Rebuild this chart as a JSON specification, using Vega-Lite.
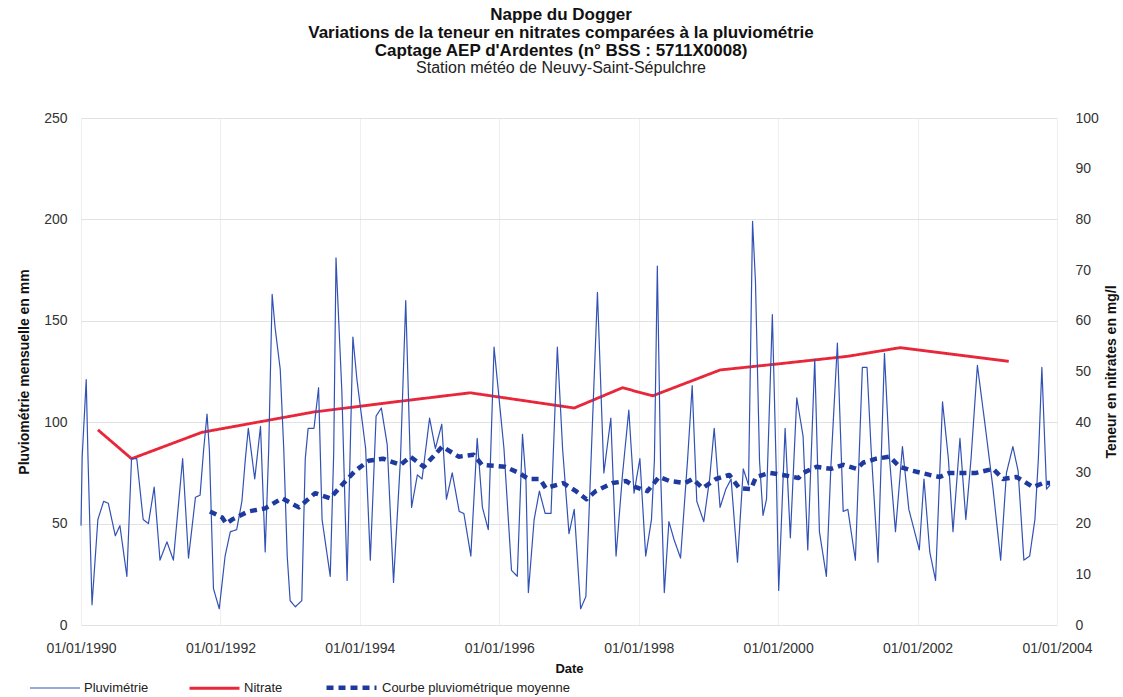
{
  "$schema": "https://vega.github.io/schema/vega-lite/v6.json",
  "width": 976,
  "height": 507,
  "autosize": {"type": "none"},
  "padding": {"left": 81, "top": 118, "right": 66, "bottom": 72},
  "background": "white",
  "config": {
    "view": {"stroke": null},
    "font": "Liberation Sans",
    "axis": {"labelFont": "Liberation Sans", "titleFont": "Liberation Sans", "labelColor": "#333333", "titleColor": "#111111"}
  },
  "title": {
    "text": ["Nappe du Dogger", "Variations de la teneur en nitrates comparées à la pluviométrie", "Captage AEP  d'Ardentes (n° BSS : 5711X0008)"],
    "subtitle": "Station météo de Neuvy-Saint-Sépulchre",
    "font": "Liberation Sans",
    "fontSize": 17,
    "fontWeight": "bold",
    "lineHeight": 18,
    "color": "#111111",
    "subtitleFont": "Liberation Sans",
    "subtitleFontSize": 16,
    "subtitleColor": "#222222",
    "subtitlePadding": 0,
    "subtitleLineHeight": 17,
    "anchor": "middle",
    "offset": 34,
    "dx": -8
  },
  "datasets": {
    "nitrate": [
      {"serie": "Nitrate", "annee": 1990.242, "valeur": 38.5},
      {"serie": "Nitrate", "annee": 1990.725, "valeur": 32.8},
      {"serie": "Nitrate", "annee": 1991.733, "valeur": 38},
      {"serie": "Nitrate", "annee": 1993.333, "valeur": 42},
      {"serie": "Nitrate", "annee": 1994.5, "valeur": 44},
      {"serie": "Nitrate", "annee": 1995.583, "valeur": 45.8},
      {"serie": "Nitrate", "annee": 1997.075, "valeur": 42.8},
      {"serie": "Nitrate", "annee": 1997.767, "valeur": 46.8},
      {"serie": "Nitrate", "annee": 1998.2, "valeur": 45.2},
      {"serie": "Nitrate", "annee": 1999.167, "valeur": 50.3},
      {"serie": "Nitrate", "annee": 2000.0, "valeur": 51.5},
      {"serie": "Nitrate", "annee": 2001.0, "valeur": 53},
      {"serie": "Nitrate", "annee": 2001.75, "valeur": 54.7},
      {"serie": "Nitrate", "annee": 2003.308, "valeur": 52}
    ],
    "pluie": [
      {"serie": "Pluvimétrie", "annee": 1990.000, "valeur": 49},
      {"serie": "Pluvimétrie", "annee": 1990.017, "valeur": 83},
      {"serie": "Pluvimétrie", "annee": 1990.075, "valeur": 121},
      {"serie": "Pluvimétrie", "annee": 1990.100, "valeur": 83},
      {"serie": "Pluvimétrie", "annee": 1990.158, "valeur": 10},
      {"serie": "Pluvimétrie", "annee": 1990.242, "valeur": 52},
      {"serie": "Pluvimétrie", "annee": 1990.325, "valeur": 61},
      {"serie": "Pluvimétrie", "annee": 1990.392, "valeur": 60},
      {"serie": "Pluvimétrie", "annee": 1990.492, "valeur": 44},
      {"serie": "Pluvimétrie", "annee": 1990.558, "valeur": 49},
      {"serie": "Pluvimétrie", "annee": 1990.658, "valeur": 24},
      {"serie": "Pluvimétrie", "annee": 1990.725, "valeur": 82},
      {"serie": "Pluvimétrie", "annee": 1990.800, "valeur": 82},
      {"serie": "Pluvimétrie", "annee": 1990.892, "valeur": 52},
      {"serie": "Pluvimétrie", "annee": 1990.967, "valeur": 50},
      {"serie": "Pluvimétrie", "annee": 1991.050, "valeur": 68},
      {"serie": "Pluvimétrie", "annee": 1991.133, "valeur": 32},
      {"serie": "Pluvimétrie", "annee": 1991.233, "valeur": 41},
      {"serie": "Pluvimétrie", "annee": 1991.325, "valeur": 32},
      {"serie": "Pluvimétrie", "annee": 1991.458, "valeur": 82},
      {"serie": "Pluvimétrie", "annee": 1991.542, "valeur": 33},
      {"serie": "Pluvimétrie", "annee": 1991.642, "valeur": 63},
      {"serie": "Pluvimétrie", "annee": 1991.708, "valeur": 64},
      {"serie": "Pluvimétrie", "annee": 1991.758, "valeur": 86},
      {"serie": "Pluvimétrie", "annee": 1991.808, "valeur": 104},
      {"serie": "Pluvimétrie", "annee": 1991.842, "valeur": 86},
      {"serie": "Pluvimétrie", "annee": 1991.900, "valeur": 18},
      {"serie": "Pluvimétrie", "annee": 1991.983, "valeur": 8},
      {"serie": "Pluvimétrie", "annee": 1992.067, "valeur": 34},
      {"serie": "Pluvimétrie", "annee": 1992.142, "valeur": 46},
      {"serie": "Pluvimétrie", "annee": 1992.233, "valeur": 47},
      {"serie": "Pluvimétrie", "annee": 1992.308, "valeur": 61},
      {"serie": "Pluvimétrie", "annee": 1992.358, "valeur": 82},
      {"serie": "Pluvimétrie", "annee": 1992.400, "valeur": 97},
      {"serie": "Pluvimétrie", "annee": 1992.492, "valeur": 72},
      {"serie": "Pluvimétrie", "annee": 1992.575, "valeur": 98},
      {"serie": "Pluvimétrie", "annee": 1992.642, "valeur": 36},
      {"serie": "Pluvimétrie", "annee": 1992.692, "valeur": 86},
      {"serie": "Pluvimétrie", "annee": 1992.742, "valeur": 163},
      {"serie": "Pluvimétrie", "annee": 1992.783, "valeur": 147},
      {"serie": "Pluvimétrie", "annee": 1992.858, "valeur": 126},
      {"serie": "Pluvimétrie", "annee": 1992.908, "valeur": 87},
      {"serie": "Pluvimétrie", "annee": 1992.958, "valeur": 34},
      {"serie": "Pluvimétrie", "annee": 1993.000, "valeur": 12},
      {"serie": "Pluvimétrie", "annee": 1993.075, "valeur": 9},
      {"serie": "Pluvimétrie", "annee": 1993.167, "valeur": 12},
      {"serie": "Pluvimétrie", "annee": 1993.217, "valeur": 82},
      {"serie": "Pluvimétrie", "annee": 1993.258, "valeur": 97},
      {"serie": "Pluvimétrie", "annee": 1993.342, "valeur": 97},
      {"serie": "Pluvimétrie", "annee": 1993.408, "valeur": 117},
      {"serie": "Pluvimétrie", "annee": 1993.458, "valeur": 52},
      {"serie": "Pluvimétrie", "annee": 1993.575, "valeur": 24},
      {"serie": "Pluvimétrie", "annee": 1993.625, "valeur": 85},
      {"serie": "Pluvimétrie", "annee": 1993.658, "valeur": 181},
      {"serie": "Pluvimétrie", "annee": 1993.675, "valeur": 167},
      {"serie": "Pluvimétrie", "annee": 1993.742, "valeur": 115},
      {"serie": "Pluvimétrie", "annee": 1993.817, "valeur": 22},
      {"serie": "Pluvimétrie", "annee": 1993.858, "valeur": 81},
      {"serie": "Pluvimétrie", "annee": 1993.900, "valeur": 142},
      {"serie": "Pluvimétrie", "annee": 1993.958, "valeur": 121},
      {"serie": "Pluvimétrie", "annee": 1994.083, "valeur": 87},
      {"serie": "Pluvimétrie", "annee": 1994.150, "valeur": 32},
      {"serie": "Pluvimétrie", "annee": 1994.233, "valeur": 103},
      {"serie": "Pluvimétrie", "annee": 1994.308, "valeur": 107},
      {"serie": "Pluvimétrie", "annee": 1994.392, "valeur": 89},
      {"serie": "Pluvimétrie", "annee": 1994.483, "valeur": 21},
      {"serie": "Pluvimétrie", "annee": 1994.583, "valeur": 82},
      {"serie": "Pluvimétrie", "annee": 1994.658, "valeur": 160},
      {"serie": "Pluvimétrie", "annee": 1994.742, "valeur": 58},
      {"serie": "Pluvimétrie", "annee": 1994.825, "valeur": 74},
      {"serie": "Pluvimétrie", "annee": 1994.892, "valeur": 72},
      {"serie": "Pluvimétrie", "annee": 1995.000, "valeur": 102},
      {"serie": "Pluvimétrie", "annee": 1995.083, "valeur": 87},
      {"serie": "Pluvimétrie", "annee": 1995.175, "valeur": 99},
      {"serie": "Pluvimétrie", "annee": 1995.242, "valeur": 62},
      {"serie": "Pluvimétrie", "annee": 1995.325, "valeur": 75},
      {"serie": "Pluvimétrie", "annee": 1995.425, "valeur": 56},
      {"serie": "Pluvimétrie", "annee": 1995.492, "valeur": 55},
      {"serie": "Pluvimétrie", "annee": 1995.592, "valeur": 34},
      {"serie": "Pluvimétrie", "annee": 1995.683, "valeur": 92},
      {"serie": "Pluvimétrie", "annee": 1995.758, "valeur": 58},
      {"serie": "Pluvimétrie", "annee": 1995.842, "valeur": 47},
      {"serie": "Pluvimétrie", "annee": 1995.925, "valeur": 137},
      {"serie": "Pluvimétrie", "annee": 1996.067, "valeur": 87},
      {"serie": "Pluvimétrie", "annee": 1996.175, "valeur": 27},
      {"serie": "Pluvimétrie", "annee": 1996.258, "valeur": 24},
      {"serie": "Pluvimétrie", "annee": 1996.333, "valeur": 94},
      {"serie": "Pluvimétrie", "annee": 1996.383, "valeur": 71},
      {"serie": "Pluvimétrie", "annee": 1996.417, "valeur": 16},
      {"serie": "Pluvimétrie", "annee": 1996.500, "valeur": 52},
      {"serie": "Pluvimétrie", "annee": 1996.575, "valeur": 66},
      {"serie": "Pluvimétrie", "annee": 1996.658, "valeur": 55},
      {"serie": "Pluvimétrie", "annee": 1996.742, "valeur": 55},
      {"serie": "Pluvimétrie", "annee": 1996.833, "valeur": 137},
      {"serie": "Pluvimétrie", "annee": 1996.908, "valeur": 87},
      {"serie": "Pluvimétrie", "annee": 1997.000, "valeur": 45},
      {"serie": "Pluvimétrie", "annee": 1997.075, "valeur": 57},
      {"serie": "Pluvimétrie", "annee": 1997.167, "valeur": 8},
      {"serie": "Pluvimétrie", "annee": 1997.242, "valeur": 14},
      {"serie": "Pluvimétrie", "annee": 1997.317, "valeur": 82},
      {"serie": "Pluvimétrie", "annee": 1997.408, "valeur": 164},
      {"serie": "Pluvimétrie", "annee": 1997.500, "valeur": 75},
      {"serie": "Pluvimétrie", "annee": 1997.600, "valeur": 102},
      {"serie": "Pluvimétrie", "annee": 1997.675, "valeur": 34},
      {"serie": "Pluvimétrie", "annee": 1997.767, "valeur": 74},
      {"serie": "Pluvimétrie", "annee": 1997.858, "valeur": 106},
      {"serie": "Pluvimétrie", "annee": 1997.933, "valeur": 65},
      {"serie": "Pluvimétrie", "annee": 1998.017, "valeur": 82},
      {"serie": "Pluvimétrie", "annee": 1998.100, "valeur": 34},
      {"serie": "Pluvimétrie", "annee": 1998.183, "valeur": 52},
      {"serie": "Pluvimétrie", "annee": 1998.225, "valeur": 81},
      {"serie": "Pluvimétrie", "annee": 1998.267, "valeur": 177},
      {"serie": "Pluvimétrie", "annee": 1998.317, "valeur": 72},
      {"serie": "Pluvimétrie", "annee": 1998.367, "valeur": 16},
      {"serie": "Pluvimétrie", "annee": 1998.433, "valeur": 51},
      {"serie": "Pluvimétrie", "annee": 1998.508, "valeur": 42},
      {"serie": "Pluvimétrie", "annee": 1998.600, "valeur": 33},
      {"serie": "Pluvimétrie", "annee": 1998.700, "valeur": 81},
      {"serie": "Pluvimétrie", "annee": 1998.767, "valeur": 118},
      {"serie": "Pluvimétrie", "annee": 1998.833, "valeur": 61},
      {"serie": "Pluvimétrie", "annee": 1998.933, "valeur": 51},
      {"serie": "Pluvimétrie", "annee": 1999.017, "valeur": 72},
      {"serie": "Pluvimétrie", "annee": 1999.083, "valeur": 97},
      {"serie": "Pluvimétrie", "annee": 1999.167, "valeur": 58},
      {"serie": "Pluvimétrie", "annee": 1999.250, "valeur": 67},
      {"serie": "Pluvimétrie", "annee": 1999.325, "valeur": 72},
      {"serie": "Pluvimétrie", "annee": 1999.417, "valeur": 31},
      {"serie": "Pluvimétrie", "annee": 1999.500, "valeur": 77},
      {"serie": "Pluvimétrie", "annee": 1999.575, "valeur": 69},
      {"serie": "Pluvimétrie", "annee": 1999.633, "valeur": 199},
      {"serie": "Pluvimétrie", "annee": 1999.675, "valeur": 169},
      {"serie": "Pluvimétrie", "annee": 1999.733, "valeur": 81},
      {"serie": "Pluvimétrie", "annee": 1999.783, "valeur": 54},
      {"serie": "Pluvimétrie", "annee": 1999.833, "valeur": 62},
      {"serie": "Pluvimétrie", "annee": 1999.917, "valeur": 153},
      {"serie": "Pluvimétrie", "annee": 1999.975, "valeur": 73},
      {"serie": "Pluvimétrie", "annee": 2000.008, "valeur": 17},
      {"serie": "Pluvimétrie", "annee": 2000.100, "valeur": 97},
      {"serie": "Pluvimétrie", "annee": 2000.175, "valeur": 43},
      {"serie": "Pluvimétrie", "annee": 2000.267, "valeur": 112},
      {"serie": "Pluvimétrie", "annee": 2000.358, "valeur": 93},
      {"serie": "Pluvimétrie", "annee": 2000.425, "valeur": 37},
      {"serie": "Pluvimétrie", "annee": 2000.525, "valeur": 131},
      {"serie": "Pluvimétrie", "annee": 2000.592, "valeur": 46},
      {"serie": "Pluvimétrie", "annee": 2000.692, "valeur": 24},
      {"serie": "Pluvimétrie", "annee": 2000.758, "valeur": 79},
      {"serie": "Pluvimétrie", "annee": 2000.850, "valeur": 139},
      {"serie": "Pluvimétrie", "annee": 2000.933, "valeur": 56},
      {"serie": "Pluvimétrie", "annee": 2001.000, "valeur": 57},
      {"serie": "Pluvimétrie", "annee": 2001.108, "valeur": 32},
      {"serie": "Pluvimétrie", "annee": 2001.208, "valeur": 127},
      {"serie": "Pluvimétrie", "annee": 2001.275, "valeur": 127},
      {"serie": "Pluvimétrie", "annee": 2001.333, "valeur": 87},
      {"serie": "Pluvimétrie", "annee": 2001.433, "valeur": 31},
      {"serie": "Pluvimétrie", "annee": 2001.525, "valeur": 134},
      {"serie": "Pluvimétrie", "annee": 2001.600, "valeur": 81},
      {"serie": "Pluvimétrie", "annee": 2001.683, "valeur": 46},
      {"serie": "Pluvimétrie", "annee": 2001.783, "valeur": 88},
      {"serie": "Pluvimétrie", "annee": 2001.875, "valeur": 57},
      {"serie": "Pluvimétrie", "annee": 2002.025, "valeur": 37},
      {"serie": "Pluvimétrie", "annee": 2002.092, "valeur": 72},
      {"serie": "Pluvimétrie", "annee": 2002.175, "valeur": 36},
      {"serie": "Pluvimétrie", "annee": 2002.258, "valeur": 22},
      {"serie": "Pluvimétrie", "annee": 2002.358, "valeur": 110},
      {"serie": "Pluvimétrie", "annee": 2002.442, "valeur": 82},
      {"serie": "Pluvimétrie", "annee": 2002.508, "valeur": 46},
      {"serie": "Pluvimétrie", "annee": 2002.608, "valeur": 92},
      {"serie": "Pluvimétrie", "annee": 2002.692, "valeur": 52},
      {"serie": "Pluvimétrie", "annee": 2002.767, "valeur": 82},
      {"serie": "Pluvimétrie", "annee": 2002.858, "valeur": 128},
      {"serie": "Pluvimétrie", "annee": 2002.967, "valeur": 99},
      {"serie": "Pluvimétrie", "annee": 2003.083, "valeur": 67},
      {"serie": "Pluvimétrie", "annee": 2003.192, "valeur": 32},
      {"serie": "Pluvimétrie", "annee": 2003.275, "valeur": 75},
      {"serie": "Pluvimétrie", "annee": 2003.367, "valeur": 88},
      {"serie": "Pluvimétrie", "annee": 2003.442, "valeur": 76},
      {"serie": "Pluvimétrie", "annee": 2003.525, "valeur": 32},
      {"serie": "Pluvimétrie", "annee": 2003.608, "valeur": 34},
      {"serie": "Pluvimétrie", "annee": 2003.683, "valeur": 52},
      {"serie": "Pluvimétrie", "annee": 2003.733, "valeur": 82},
      {"serie": "Pluvimétrie", "annee": 2003.783, "valeur": 127},
      {"serie": "Pluvimétrie", "annee": 2003.850, "valeur": 67},
      {"serie": "Pluvimétrie", "annee": 2003.900, "valeur": 69},
      {"serie": "Courbe pluviométrique moyenne", "annee": 1991.850, "valeur": 56},
      {"serie": "Courbe pluviométrique moyenne", "annee": 1992.025, "valeur": 53},
      {"serie": "Courbe pluviométrique moyenne", "annee": 1992.083, "valeur": 50},
      {"serie": "Courbe pluviométrique moyenne", "annee": 1992.167, "valeur": 52},
      {"serie": "Courbe pluviométrique moyenne", "annee": 1992.400, "valeur": 56},
      {"serie": "Courbe pluviométrique moyenne", "annee": 1992.642, "valeur": 57.5},
      {"serie": "Courbe pluviométrique moyenne", "annee": 1992.883, "valeur": 62.5},
      {"serie": "Courbe pluviométrique moyenne", "annee": 1993.125, "valeur": 58},
      {"serie": "Courbe pluviométrique moyenne", "annee": 1993.358, "valeur": 65},
      {"serie": "Courbe pluviométrique moyenne", "annee": 1993.575, "valeur": 62.5},
      {"serie": "Courbe pluviométrique moyenne", "annee": 1993.742, "valeur": 69},
      {"serie": "Courbe pluviométrique moyenne", "annee": 1993.933, "valeur": 76},
      {"serie": "Courbe pluviométrique moyenne", "annee": 1994.125, "valeur": 81},
      {"serie": "Courbe pluviométrique moyenne", "annee": 1994.333, "valeur": 82},
      {"serie": "Courbe pluviométrique moyenne", "annee": 1994.583, "valeur": 79},
      {"serie": "Courbe pluviométrique moyenne", "annee": 1994.725, "valeur": 83},
      {"serie": "Courbe pluviométrique moyenne", "annee": 1994.917, "valeur": 78},
      {"serie": "Courbe pluviométrique moyenne", "annee": 1995.183, "valeur": 88},
      {"serie": "Courbe pluviométrique moyenne", "annee": 1995.417, "valeur": 83},
      {"serie": "Courbe pluviométrique moyenne", "annee": 1995.633, "valeur": 84},
      {"serie": "Courbe pluviométrique moyenne", "annee": 1995.750, "valeur": 79},
      {"serie": "Courbe pluviométrique moyenne", "annee": 1996.083, "valeur": 78},
      {"serie": "Courbe pluviométrique moyenne", "annee": 1996.283, "valeur": 75},
      {"serie": "Courbe pluviométrique moyenne", "annee": 1996.417, "valeur": 72},
      {"serie": "Courbe pluviométrique moyenne", "annee": 1996.583, "valeur": 72},
      {"serie": "Courbe pluviométrique moyenne", "annee": 1996.667, "valeur": 67.5},
      {"serie": "Courbe pluviométrique moyenne", "annee": 1996.917, "valeur": 70},
      {"serie": "Courbe pluviométrique moyenne", "annee": 1997.100, "valeur": 66},
      {"serie": "Courbe pluviométrique moyenne", "annee": 1997.250, "valeur": 62},
      {"serie": "Courbe pluviométrique moyenne", "annee": 1997.383, "valeur": 66},
      {"serie": "Courbe pluviométrique moyenne", "annee": 1997.625, "valeur": 70},
      {"serie": "Courbe pluviométrique moyenne", "annee": 1997.817, "valeur": 71},
      {"serie": "Courbe pluviométrique moyenne", "annee": 1997.958, "valeur": 68},
      {"serie": "Courbe pluviométrique moyenne", "annee": 1998.125, "valeur": 66},
      {"serie": "Courbe pluviométrique moyenne", "annee": 1998.292, "valeur": 73},
      {"serie": "Courbe pluviométrique moyenne", "annee": 1998.442, "valeur": 71},
      {"serie": "Courbe pluviométrique moyenne", "annee": 1998.667, "valeur": 70},
      {"serie": "Courbe pluviométrique moyenne", "annee": 1998.775, "valeur": 72},
      {"serie": "Courbe pluviométrique moyenne", "annee": 1998.917, "valeur": 67.5},
      {"serie": "Courbe pluviométrique moyenne", "annee": 1999.108, "valeur": 72},
      {"serie": "Courbe pluviométrique moyenne", "annee": 1999.300, "valeur": 74},
      {"serie": "Courbe pluviométrique moyenne", "annee": 1999.442, "valeur": 67.5},
      {"serie": "Courbe pluviométrique moyenne", "annee": 1999.608, "valeur": 67},
      {"serie": "Courbe pluviométrique moyenne", "annee": 1999.683, "valeur": 73},
      {"serie": "Courbe pluviométrique moyenne", "annee": 1999.875, "valeur": 75},
      {"serie": "Courbe pluviométrique moyenne", "annee": 2000.067, "valeur": 74},
      {"serie": "Courbe pluviométrique moyenne", "annee": 2000.292, "valeur": 72.5},
      {"serie": "Courbe pluviométrique moyenne", "annee": 2000.358, "valeur": 75},
      {"serie": "Courbe pluviométrique moyenne", "annee": 2000.550, "valeur": 78},
      {"serie": "Courbe pluviométrique moyenne", "annee": 2000.758, "valeur": 77},
      {"serie": "Courbe pluviométrique moyenne", "annee": 2000.933, "valeur": 79},
      {"serie": "Courbe pluviométrique moyenne", "annee": 2001.125, "valeur": 77},
      {"serie": "Courbe pluviométrique moyenne", "annee": 2001.217, "valeur": 80},
      {"serie": "Courbe pluviométrique moyenne", "annee": 2001.408, "valeur": 82},
      {"serie": "Courbe pluviométrique moyenne", "annee": 2001.600, "valeur": 83},
      {"serie": "Courbe pluviométrique moyenne", "annee": 2001.742, "valeur": 78},
      {"serie": "Courbe pluviométrique moyenne", "annee": 2001.933, "valeur": 76},
      {"serie": "Courbe pluviométrique moyenne", "annee": 2002.175, "valeur": 74},
      {"serie": "Courbe pluviométrique moyenne", "annee": 2002.317, "valeur": 73},
      {"serie": "Courbe pluviométrique moyenne", "annee": 2002.458, "valeur": 75},
      {"serie": "Courbe pluviométrique moyenne", "annee": 2002.608, "valeur": 75},
      {"serie": "Courbe pluviométrique moyenne", "annee": 2002.842, "valeur": 75},
      {"serie": "Courbe pluviométrique moyenne", "annee": 2003.083, "valeur": 77},
      {"serie": "Courbe pluviométrique moyenne", "annee": 2003.225, "valeur": 72},
      {"serie": "Courbe pluviométrique moyenne", "annee": 2003.417, "valeur": 73},
      {"serie": "Courbe pluviométrique moyenne", "annee": 2003.517, "valeur": 71},
      {"serie": "Courbe pluviométrique moyenne", "annee": 2003.658, "valeur": 68},
      {"serie": "Courbe pluviométrique moyenne", "annee": 2003.800, "valeur": 70},
      {"serie": "Courbe pluviométrique moyenne", "annee": 2003.900, "valeur": 70}
    ]
  },
  "layer": [
    {
      "data": {"name": "nitrate"},
      "mark": {"type": "line", "strokeCap": "butt", "strokeJoin": "round"},
      "encoding": {
        "x": {"field": "annee", "type": "quantitative", "scale": {"domain": [1990, 2004], "nice": false, "zero": false},
          "axis": {"values": [1990, 1992, 1994, 1996, 1998, 2000, 2002, 2004], "labelExpr": "'01/01/' + datum.value", "grid": true, "gridColor": "#eeeeee", "domain": false, "ticks": false, "labelPadding": 16, "labelFontSize": 14, "labelOverlap": false, "labelFlush": false, "title": "Date", "titleFontSize": 13, "titleFontWeight": "bold", "titlePadding": 7}},
        "y": {"field": "valeur", "type": "quantitative", "scale": {"domain": [0, 100], "nice": false},
          "axis": {"orient": "right", "values": [0, 10, 20, 30, 40, 50, 60, 70, 80, 90, 100], "grid": false, "domain": false, "ticks": false, "labelPadding": 18, "labelFontSize": 14, "title": "Teneur en nitrates en mg/l", "titleFontSize": 14, "titleFontWeight": "bold", "titleAngle": 270, "titlePadding": 20}},
        "color": {"field": "serie", "type": "nominal", "scale": {"domain": ["Pluvimétrie", "Nitrate", "Courbe pluviométrique moyenne"], "range": ["#3251b5", "#e8283a", "#1f3a9e"]},
          "legend": {"title": null, "orient": "none", "legendX": -52, "legendY": 542, "direction": "horizontal", "symbolType": "stroke", "symbolSize": 2500, "labelFontSize": 13, "labelFont": "Liberation Sans", "labelColor": "#222222", "labelOffset": 3, "labelLimit": 400, "columnPadding": 34, "padding": 0}},
        "strokeDash": {"field": "serie", "type": "nominal", "scale": {"domain": ["Pluvimétrie", "Nitrate", "Courbe pluviométrique moyenne"], "range": [[1, 0], [1, 0], [7, 5]]}, "legend": null},
        "strokeWidth": {"field": "serie", "type": "nominal", "scale": {"domain": ["Pluvimétrie", "Nitrate", "Courbe pluviométrique moyenne"], "range": [1.2, 4.5, 2.1]}, "legend": null}
      }
    },
    {
      "data": {"name": "pluie"},
      "mark": {"type": "line", "strokeJoin": "round"},
      "encoding": {
        "x": {"field": "annee", "type": "quantitative"},
        "y": {"field": "valeur", "type": "quantitative", "scale": {"domain": [0, 250], "nice": false},
          "axis": {"orient": "left", "values": [0, 50, 100, 150, 200, 250], "grid": true, "gridColor": "#e2e2e2", "domain": false, "ticks": false, "labelPadding": 14, "labelFontSize": 14, "title": "Pluviométrie mensuelle en mm", "titleFontSize": 14, "titleFontWeight": "bold", "titlePadding": 12}},
        "color": {"field": "serie", "type": "nominal"},
        "strokeDash": {"field": "serie", "type": "nominal"},
        "strokeWidth": {"field": "serie", "type": "nominal"}
      }
    }
  ],
  "resolve": {"scale": {"y": "independent"}}
}
